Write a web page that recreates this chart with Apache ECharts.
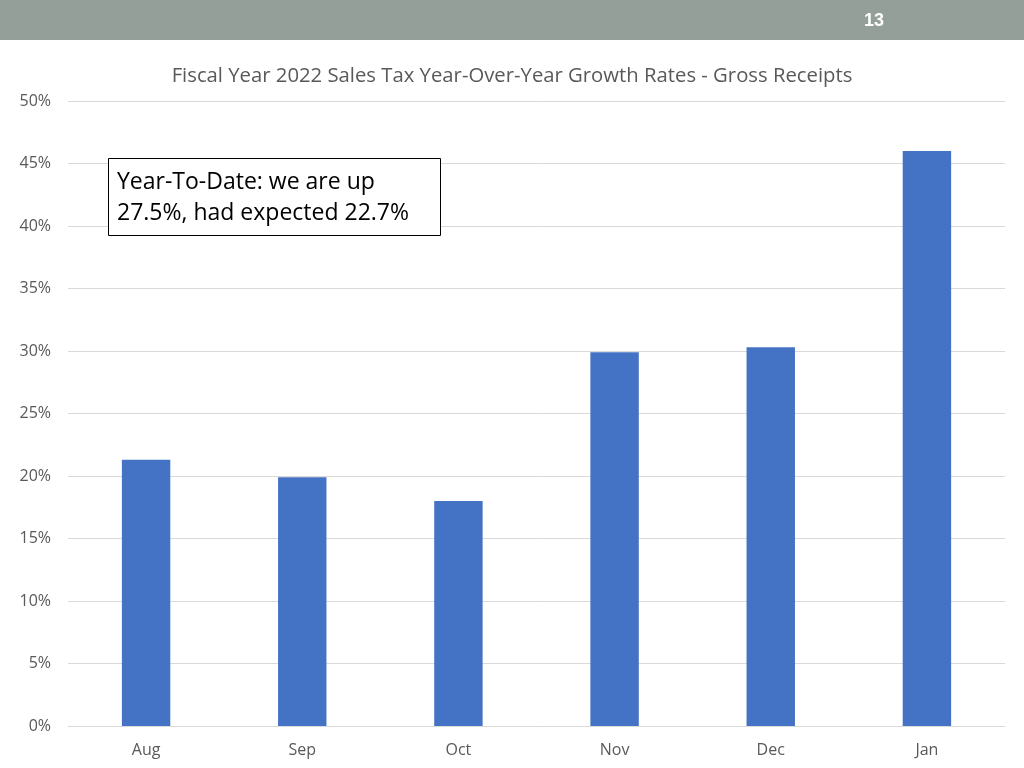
<!DOCTYPE html>
<html>
<head>
<meta charset="utf-8">
<script src="https://cdn.jsdelivr.net/npm/echarts@6/dist/echarts.min.js"></script>
<style>
html,body{margin:0;padding:0;background:#fff;}
#chart{width:1024px;height:768px;}
</style>
</head>
<body>
<div id="chart"></div>
<script>
var categories = ['Aug', 'Sep', 'Oct', 'Nov', 'Dec', 'Jan'];
var growthRates = [21.3, 19.9, 18.0, 29.9, 30.3, 46.0];
var titleText = 'Fiscal Year 2022 Sales Tax Year-Over-Year Growth Rates - Gross Receipts';
var noteLines = ['Year-To-Date: we are up', '27.5%, had expected 22.7%'];
var pageNumber = '13';

var chart = echarts.init(document.getElementById('chart'));
chart.setOption({
  animation: false,
  backgroundColor: '#ffffff',
  textStyle: { fontFamily: 'Open Sans' },
  title: {
    text: titleText,
    left: 'center',
    top: 61,
    textStyle: { fontSize: 20.3, fontWeight: 'normal', color: '#595959', fontFamily: 'Open Sans' }
  },
  grid: { left: 68, right: 19, top: 101, bottom: 42 },
  xAxis: {
    type: 'category',
    data: categories,
    axisLine: { show: true, lineStyle: { color: '#d9d9d9' } },
    axisTick: { show: false },
    axisLabel: { color: '#595959', fontSize: 16, margin: 16 }
  },
  yAxis: {
    type: 'value',
    min: 0,
    max: 50,
    interval: 5,
    axisLine: { show: false },
    axisTick: { show: false },
    axisLabel: { color: '#595959', fontSize: 16, margin: 17, formatter: '{value}%' },
    splitLine: { lineStyle: { color: '#d9d9d9', width: 1 } }
  },
  series: [{
    type: 'bar',
    data: growthRates,
    barWidth: '31%',
    itemStyle: { color: '#4472C4' }
  }],
  graphic: [
    {
      type: 'rect',
      left: 0, top: 0,
      shape: { width: 1024, height: 40 },
      style: { fill: '#939F98' },
      silent: true
    },
    {
      type: 'text',
      left: 864, top: 12,
      style: { text: pageNumber, fill: '#ffffff', fontSize: 18, fontWeight: 'bold', fontFamily: 'Liberation Sans Narrow, Liberation Sans' }
    },
    {
      type: 'rect',
      left: 108, top: 158,
      shape: { width: 332, height: 77 },
      style: { fill: '#ffffff', stroke: '#000000', lineWidth: 1 },
      z: 100
    },
    {
      type: 'text',
      left: 117, top: 167,
      style: { text: noteLines.join('\n'), fill: '#000000', fontSize: 23, lineHeight: 31, fontFamily: 'Open Sans' },
      z: 101
    }
  ]
});
</script>
</body>
</html>
